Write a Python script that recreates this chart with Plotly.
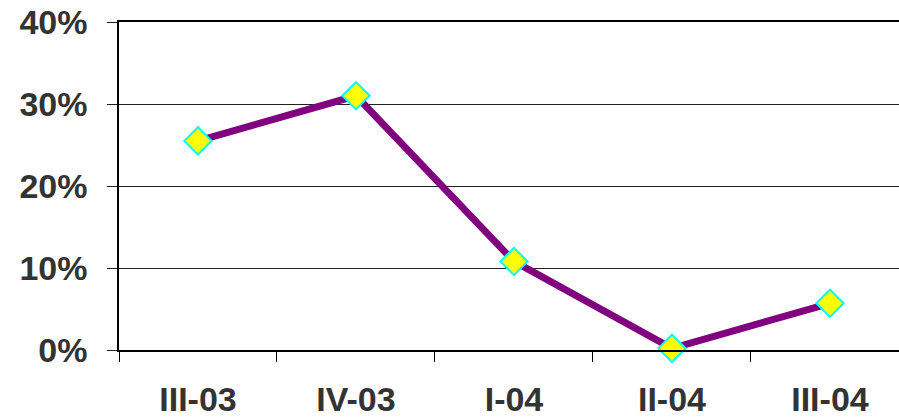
import plotly.graph_objects as go

# 분기별 값 (%)
quarters = ["III-03", "IV-03", "I-04", "II-04", "III-04"]
values = [25.5, 31.0, 10.8, 0.2, 5.7]

y_ticks = [0, 10, 20, 30, 40]
y_labels = ["0%", "10%", "20%", "30%", "40%"]

fig = go.Figure()
fig.add_trace(go.Scatter(
    x=quarters,
    y=values,
    mode="lines+markers",
    line=dict(color="#800080", width=7),
    marker=dict(symbol="diamond", size=21, color="#FFFF00",
                line=dict(color="#00FFFF", width=2)),
    cliponaxis=False,
    showlegend=False,
))

fig.update_layout(
    width=899,
    height=417,
    margin=dict(l=119, r=0, t=22, b=67),
    paper_bgcolor="white",
    plot_bgcolor="white",
    font=dict(family="Liberation Sans, Arial", size=34, color="#333333", weight="bold"),
)
fig.update_xaxes(
    range=[-0.5, 4.437],
    automargin=False,
    showgrid=False,
    showline=True, linecolor="black", linewidth=1.5,
    mirror=True,  # 상단 40% 선
    ticks="outside", ticklen=10, tickcolor="black", tickwidth=1,
    tickson="boundaries",
    ticklabelstandoff=18,
    tickfont=dict(size=34, color="#333333", weight="bold"),
)
fig.update_yaxes(
    range=[0, 40],
    automargin=False,
    tickvals=y_ticks, ticktext=y_labels,
    showgrid=True, gridcolor="#222222", gridwidth=1,
    zeroline=False,
    showline=True, linecolor="black", linewidth=1.5,
    ticks="outside", ticklen=10, tickcolor="#222222", tickwidth=1,
    ticklabelstandoff=13,
    tickfont=dict(size=34, color="#333333", weight="bold"),
)

# 페이지 기본 여백 제거
fig.write_html(
    "out.html",
    config={"displayModeBar": False},
    post_script="document.body.style.margin = '0';",
)
